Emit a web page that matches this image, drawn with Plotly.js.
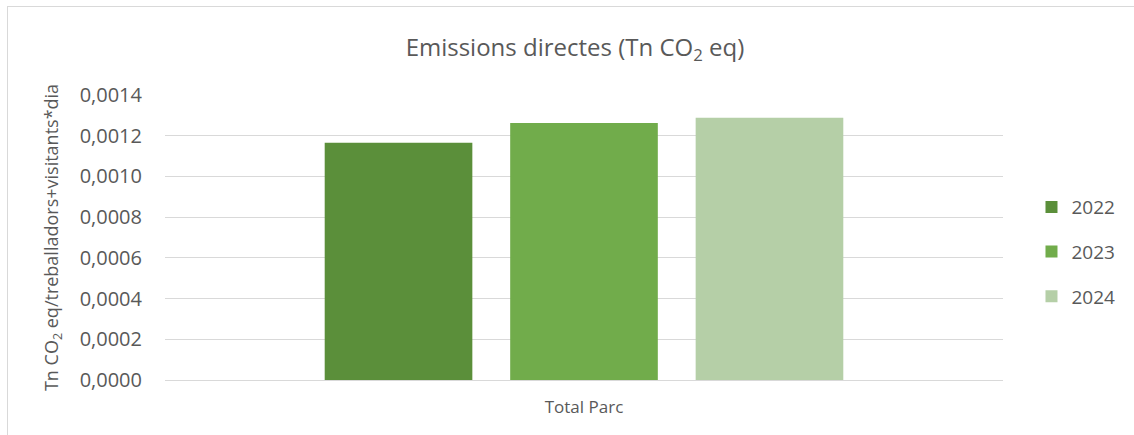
<!DOCTYPE html>
<html>
<head>
<meta charset="utf-8">
<script src="https://cdn.plot.ly/plotly-3.0.1.min.js"></script>
<style>
  html, body { margin:0; padding:0; background:#fff; overflow:hidden; }
  #frame { position:absolute; left:7px; top:6px; width:1140px; height:440px; border:1px solid #d9d9d9; box-sizing:border-box; pointer-events:none; z-index:5; }
  #chart { position:absolute; left:0; top:0; width:1134px; height:435px; }
</style>
</head>
<body>
<div id="chart"></div>
<div id="frame"></div>
<script>
const categories = ["Total Parc"];
const years = ["2022", "2023", "2024"];
const values2022 = [0.001165];
const values2023 = [0.001263];
const values2024 = [0.001288];
const colors = ["#5b8f3a", "#71ac4b", "#b5cfa7"];
const yTickVals = [0, 0.0002, 0.0004, 0.0006, 0.0008, 0.0010, 0.0012, 0.0014];

const series = [values2022, values2023, values2024];
const traces = series.map((vals, i) => ({
  type: "bar",
  name: years[i],
  x: categories,
  y: vals,
  marker: { color: colors[i] },
  legendgroup: "g" + i,
  hoverinfo: "y+name"
}));

const font = "Open Sans, Noto Sans, sans-serif";
const layout = {
  width: 1134, height: 435,
  margin: { l: 165, r: 131, t: 95, b: 55, autoexpand: false },
  paper_bgcolor: "#ffffff",
  plot_bgcolor: "#ffffff",
  separators: ",.",
  barmode: "group",
  bargap: 0.336,
  bargroupgap: 0.204,
  title: {
    text: "Emissions directes (Tn CO<sub>2</sub> eq)",
    font: { family: font, size: 24, color: "#595959" },
    x: 575 / 1134, xanchor: "center", xref: "container",
    y: 46, yref: "container", yanchor: "middle"
  },
  xaxis: {
    showgrid: false,
    showline: true, linecolor: "#d9d9d9", linewidth: 1,
    ticks: "",
    ticklabelstandoff: 12,
    tickfont: { family: font, size: 17, color: "#595959" }
  },
  yaxis: {
    range: [0, 0.0014],
    tickvals: yTickVals,
    tickformat: ".4f",
    showgrid: true, gridcolor: "#d9d9d9", gridwidth: 1,
    zeroline: false,
    showline: false,
    ticks: "",
    ticklen: 0,
    ticklabelstandoff: 22,
    tickfont: { family: font, size: 20, color: "#595959" },
    title: {
      text: "Tn CO<sub>2</sub> eq/treballadors+visitants*dia",
      font: { family: font, size: 18, color: "#595959" },
      standoff: 16
    }
  },
  legend: {
    x: 1.034, xanchor: "left",
    y: 0.449, yanchor: "middle",
    font: { family: font, size: 19, color: "#595959" },
    tracegroupgap: 17,
    itemwidth: 30
  },
  showlegend: true
};

Plotly.newPlot("chart", traces, layout, { staticPlot: true, displayModeBar: false });
</script>
</body>
</html>
